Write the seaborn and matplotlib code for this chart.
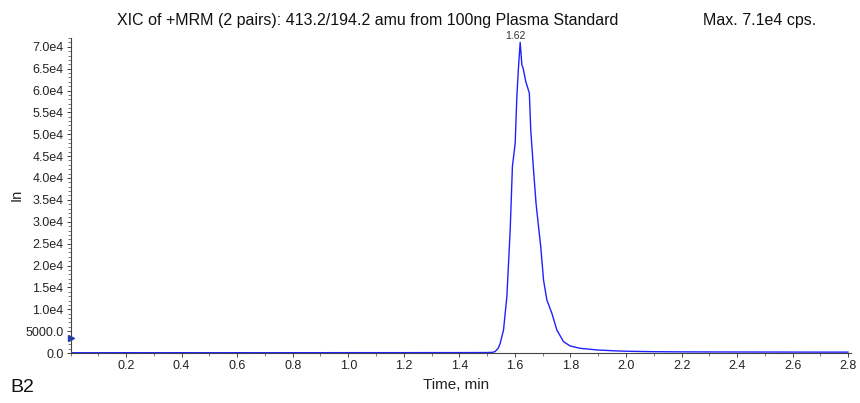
import matplotlib
matplotlib.use("Agg")
import matplotlib.pyplot as plt
import seaborn as sns
import pandas as pd
from matplotlib.ticker import MultipleLocator, FixedLocator

sns.set_theme(style="white")
plt.rcParams['font.family'] = ['Liberation Sans', 'DejaVu Sans']

time_min = [0.00, 0.10, 0.20, 0.30, 0.40, 0.50, 0.60, 0.70, 0.80, 0.90, 1.00,
            1.10, 1.20, 1.30, 1.40, 1.45, 1.50, 1.52, 1.529, 1.540, 1.547, 1.559,
            1.571, 1.583, 1.591, 1.601, 1.607, 1.613, 1.619, 1.625, 1.630, 1.639,
            1.652, 1.657, 1.667, 1.676, 1.685, 1.693, 1.703, 1.715, 1.733, 1.751,
            1.775, 1.799, 1.835, 1.895, 1.95, 1.99, 2.05, 2.10, 2.195, 2.30, 2.40,
            2.50, 2.60, 2.70, 2.80]
intensity = [60, 60, 70, 60, 70, 60, 70, 60, 70, 70, 80,
             80, 80, 90, 90, 100, 110, 150, 350, 1100, 2200, 5260,
             12880, 28140, 42620, 47970, 58630, 65490, 71000, 65880, 65000, 62060,
             59400, 51000, 41860, 34240, 28900, 24320, 16700, 12120, 9080, 5260,
             2590, 1600, 1070, 700, 520, 420, 350, 300, 260, 240, 230,
             220, 210, 200, 200]

y_ticks = [0, 5000, 10000, 15000, 20000, 25000, 30000, 35000, 40000, 45000,
           50000, 55000, 60000, 65000, 70000]
y_tick_labels = ["0.0", "5000.0", "1.0e4", "1.5e4", "2.0e4", "2.5e4", "3.0e4",
                 "3.5e4", "4.0e4", "4.5e4", "5.0e4", "5.5e4", "6.0e4", "6.5e4", "7.0e4"]
x_ticks = [0.2, 0.4, 0.6, 0.8, 1.0, 1.2, 1.4, 1.6, 1.8, 2.0, 2.2, 2.4, 2.6, 2.8]
x_tick_labels = ["0.2", "0.4", "0.6", "0.8", "1.0", "1.2", "1.4", "1.6", "1.8",
                 "2.0", "2.2", "2.4", "2.6", "2.8"]
peak_time = 1.62
peak_label = "1.62"
peak_value = 71000

df = pd.DataFrame({"Time": time_min, "In": intensity})

fig = plt.figure(figsize=(8.6, 4.03), dpi=100)
ax = fig.add_axes([70.5 / 860, 1 - 353 / 403, (851 - 70.5) / 860, (353 - 38) / 403])
sns.lineplot(data=df, x="Time", y="In", ax=ax, color="#2020ff", linewidth=1.0)

ax.set_xlim(0, 2.81)
ax.set_ylim(0, 72000)
ax.xaxis.set_major_locator(FixedLocator(x_ticks))
ax.set_xticklabels(x_tick_labels)
ax.xaxis.set_minor_locator(MultipleLocator(0.1))
ax.yaxis.set_major_locator(FixedLocator(y_ticks))
ax.set_yticklabels(y_tick_labels)
ax.yaxis.set_minor_locator(MultipleLocator(1000))

for s in ["top", "right"]:
    ax.spines[s].set_visible(False)
for s in ["left", "bottom"]:
    ax.spines[s].set_color("#444444")
    ax.spines[s].set_linewidth(0.8)

ax.tick_params(axis="both", which="major", direction="out", length=3, width=0.7,
               colors="#444444", labelsize=9, labelcolor="#222222", pad=2,
               bottom=True, left=True)
ax.tick_params(axis="both", which="minor", direction="out", length=2, width=0.6,
               colors="#666666", bottom=True, left=True)

ax.set_xlabel("")
ax.set_ylabel("")
fig.text(17 / 860, 1 - 195 / 403, "In", rotation=90, fontsize=10.5, ha="center",
         va="center", color="#222222")
fig.text(456 / 860, 1 - 385 / 403, "Time, min", fontsize=11, ha="center",
         va="center", color="#222222")
fig.text(10 / 860, 1 - 387 / 403, "B2", fontsize=14, ha="left", va="center",
         color="#111111")
fig.text(368 / 860, 1 - 21 / 403,
         "XIC of +MRM (2 pairs): 413.2/194.2 amu from 100ng Plasma Standard",
         fontsize=11.5, ha="center", va="center", color="#111111")
fig.text(760 / 860, 1 - 21 / 403, "Max. 7.1e4 cps.", fontsize=11.5, ha="center",
         va="center", color="#111111")

ax.annotate(peak_label, xy=(peak_time, peak_value), xytext=(-4, 1),
            textcoords="offset points", ha="center", va="bottom", fontsize=7.5,
            color="#333333")
ax.plot([0], [3500], marker=">", color="#1a3fbf", markersize=5, clip_on=False)

fig.savefig("out.png", dpi=100)
